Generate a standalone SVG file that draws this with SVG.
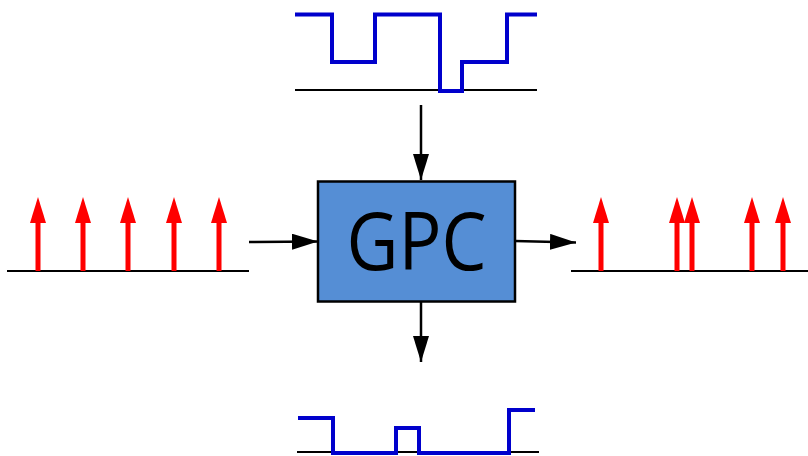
<svg xmlns="http://www.w3.org/2000/svg" width="808" height="456" viewBox="0 0 808 456">
<style>
.base{stroke:#000;stroke-width:2;fill:none}
.wave{stroke:#0000cc;stroke-width:4;fill:none;stroke-linejoin:miter}
.spike{stroke:#ff0000;stroke-width:5;fill:none}
.conn{stroke:#000;stroke-width:2.5;fill:none}
.lbl{font-family:"Open Sans","Noto Sans",sans-serif;font-size:81px;fill:#000}
</style>
<defs>
<marker id="ah" viewBox="0 0 26 16" refX="26" refY="8" markerWidth="26" markerHeight="16" markerUnits="userSpaceOnUse" orient="auto">
<path d="M0,0 L26,8 L0,16 Z" fill="#000"/>
</marker>
<marker id="rh" viewBox="0 0 16 26" refX="8" refY="0" markerWidth="16" markerHeight="26" markerUnits="userSpaceOnUse" orient="0">
<path d="M8,0 L16,26 L0,26 Z" fill="#ff0000"/>
</marker>
</defs>
<g id="top-wave">
<line class="base" x1="295" y1="90" x2="537" y2="90"/>
<polyline class="wave" points="295,14.5 332,14.5 332,62 375,62 375,14.5 440,14.5 440,91 462,91 462,62 507,62 507,14.5 537,14.5"/>
</g>
<g id="bottom-wave">
<line class="base" x1="297" y1="452" x2="539" y2="452"/>
<polyline class="wave" points="298,418 333,418 333,453 396,453 396,428 419,428 419,453 509,453 509,410 535,410"/>
</g>
<g id="input-pulses">
<line class="base" x1="7" y1="271" x2="249" y2="271"/>
<g fill="#ff0000">
<rect x="35.5" y="220" width="5" height="51"/><path d="M38,197 L46,223 L30,223 Z"/>
<rect x="80.5" y="220" width="5" height="51"/><path d="M83,197 L91,223 L75,223 Z"/>
<rect x="125.5" y="220" width="5" height="51"/><path d="M128,197 L136,223 L120,223 Z"/>
<rect x="171.5" y="220" width="5" height="51"/><path d="M174,197 L182,223 L166,223 Z"/>
<rect x="216.5" y="220" width="5" height="51"/><path d="M219,197 L227,223 L211,223 Z"/>
</g>
</g>
<g id="output-pulses">
<line class="base" x1="571" y1="271" x2="808" y2="271"/>
<g fill="#ff0000">
<rect x="598.5" y="220" width="5" height="51"/><path d="M601,197 L609,223 L593,223 Z"/>
<rect x="674.5" y="220" width="5" height="51"/><path d="M677,197 L685,223 L669,223 Z"/>
<rect x="689.5" y="220" width="5" height="51"/><path d="M692,197 L700,223 L684,223 Z"/>
<rect x="749.5" y="220" width="5" height="51"/><path d="M752,197 L760,223 L744,223 Z"/>
<rect x="780.5" y="220" width="5" height="51"/><path d="M783,197 L791,223 L775,223 Z"/>
</g>
</g>
<g id="gpc">
<rect x="318" y="181.5" width="197" height="120" fill="#558ed5" stroke="#000" stroke-width="2.5"/>
<text class="lbl" x="416.5" y="269.5" text-anchor="middle" textLength="140" lengthAdjust="spacingAndGlyphs">GPC</text>
</g>
<g id="connectors">
<line class="conn" x1="421" y1="105" x2="421" y2="180" marker-end="url(#ah)"/>
<line class="conn" x1="421" y1="302" x2="421" y2="362" marker-end="url(#ah)"/>
<line class="conn" x1="249" y1="242" x2="318" y2="241.5" marker-end="url(#ah)"/>
<line class="conn" x1="515" y1="241" x2="576" y2="242.5" marker-end="url(#ah)"/>
</g>
</svg>
